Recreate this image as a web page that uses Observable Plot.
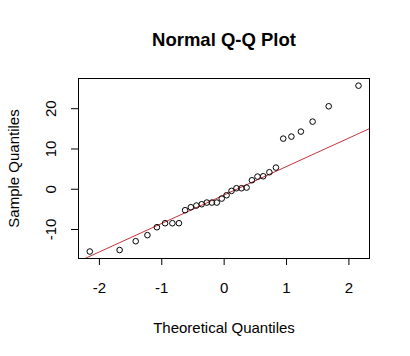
<!DOCTYPE html>
<html>
<head>
<meta charset="utf-8">
<script src="https://cdn.jsdelivr.net/npm/d3@7"></script>
<script src="https://cdn.jsdelivr.net/npm/@observablehq/plot@0.6"></script>
<style>
  html, body { margin: 0; padding: 0; background: #ffffff; }
  #chart { width: 410px; height: 356px; }
</style>
</head>
<body>
<div id="chart"></div>
<script>
// Theoretical quantiles (x) and sample quantiles (y)
const theoretical = [-2.154, -1.676, -1.418, -1.230, -1.078, -0.947, -0.830, -0.725,
  -0.626, -0.534, -0.445, -0.360, -0.278, -0.197, -0.118, -0.039,
  0.039, 0.118, 0.197, 0.278, 0.360, 0.445, 0.534, 0.626,
  0.725, 0.830, 0.947, 1.078, 1.230, 1.418, 1.676, 2.154];
const sample = [-15.47, -15.1, -12.9, -11.4, -9.43, -8.44, -8.44, -8.44,
  -5.21, -4.47, -4.05, -3.72, -3.31, -3.31, -3.31, -2.32,
  -1.49, -0.41, 0.25, 0.25, 0.41, 2.23, 3.14, 3.22,
  4.22, 5.38, 12.57, 13.07, 14.31, 16.79, 20.6, 25.72];

// Q-Q reference line (through the quartiles)
const qqIntercept = -1.42;
const qqSlope = 7.07;

const xTicks = [-2, -1, 0, 1, 2];
const yTicks = [-10, 0, 10, 20];
const title = "Normal Q-Q Plot";
const xLabel = "Theoretical Quantiles";
const yLabel = "Sample Quantiles";

const points = theoretical.map((t, i) => ({x: t, y: sample[i]}));
const xDomain = [-2.335, 2.33];
const lineData = xDomain.map(x => ({x, y: qqIntercept + qqSlope * x}));

const font = "'Liberation Sans', Arial, Helvetica, sans-serif";

const chart = Plot.plot({
  width: 410,
  height: 356,
  marginLeft: 78,
  marginRight: 41,
  marginTop: 78,
  marginBottom: 98,
  style: {fontFamily: font, background: "#ffffff", color: "#000000"},
  x: {domain: xDomain, axis: null},
  y: {domain: [-17.2, 27.5], axis: null},
  marks: [
    Plot.line(lineData, {x: "x", y: "y", stroke: "#c8323c", strokeWidth: 1, clip: true}),
    Plot.dot(points, {x: "x", y: "y", r: 2.8, stroke: "#000000", strokeWidth: 1, fill: "none"}),
    Plot.frame({stroke: "#000000", strokeWidth: 1}),
    Plot.axisX({ticks: xTicks, tickSize: 7, tickPadding: 17, fontSize: 15, tickFormat: d => String(d), label: null, stroke: "#000000", color: "#000000", strokeOpacity: 1}),
    Plot.axisY({ticks: yTicks, tickSize: 7, tickFormat: () => "", label: null, stroke: "#000000", strokeOpacity: 1}),
    Plot.text(yTicks, {y: d => d, frameAnchor: "left", text: d => String(d), rotate: -90, dx: -23, textAnchor: "middle", lineAnchor: "bottom", fontSize: 15, fill: "#000000"}),
    Plot.text([title], {frameAnchor: "top", dy: -32.5, lineAnchor: "bottom", fontSize: 18.5, fontWeight: "bold", fill: "#000000"}),
    Plot.text([xLabel], {frameAnchor: "bottom", dy: 74, lineAnchor: "bottom", fontSize: 15, fill: "#000000"}),
    Plot.text([yLabel], {frameAnchor: "left", rotate: -90, dx: -60, textAnchor: "middle", lineAnchor: "bottom", fontSize: 15, fill: "#000000"})
  ]
});
document.getElementById("chart").appendChild(chart);
</script>
</body>
</html>
